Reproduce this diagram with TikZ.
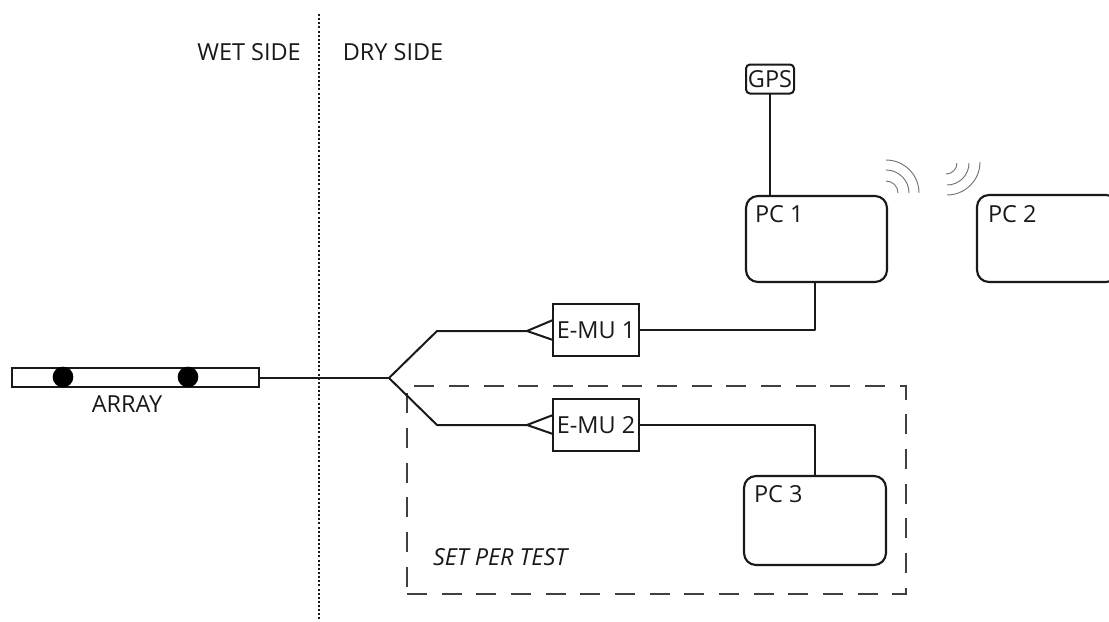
\documentclass[tikz,border=0pt]{standalone}
\usepackage{fontspec}
\setmainfont{Open Sans}
\begin{document}
\begin{tikzpicture}[x=0.75pt,y=-0.75pt,outer sep=0pt,
  wire/.style={draw=black!90,line width=1.5pt,line join=round},
  lbl/.style={inner sep=0pt,font=\fontsize{17.6pt}{20pt}\selectfont,text=black!90},
  pcbox/.style={draw=black!90,line width=1.6pt,rounded corners=9pt,anchor=north west,inner sep=0pt},
  squarebox/.style={draw=black!90,line width=1.5pt,inner sep=0pt,anchor=north west},
  wave/.style={draw=black!55,line width=0.7pt},
  sensor/.style={circle,fill=black,inner sep=0pt,minimum size=15.5pt}]
\useasboundingbox (0,0) rectangle (1109,621);
\clip (0,0) rectangle (1109,621);
% divider
\coordinate (divtop) at (319,14);
\coordinate (divbot) at (319,621);
\draw[draw=black!90,line width=1.6pt,dash pattern=on 1.5pt off 1.6pt] (divtop) -- (divbot);
\node[lbl] (wet) at (249,52) {WET SIDE};
\node[lbl] (dry) at (393,52) {DRY SIDE};
% set per test area
\node[draw=black!75,line width=1.5pt,dash pattern=on 15pt off 11pt,anchor=north west,inner sep=0pt,
  minimum width=374.25pt,minimum height=156pt] (settest) at (407,386) {};
\node[lbl,font=\fontsize{17.6pt}{20pt}\selectfont\itshape,anchor=west] (settesttext) at (433,557) {SET PER TEST};
% array
\node[squarebox,minimum width=185.25pt,minimum height=14.25pt] (array) at (12,368) {};
\node[sensor] (s1) at (63,377) {};
\node[sensor] (s2) at (188,377) {};
\node[lbl] (arraytext) at (127,404) {ARRAY};
% devices
\node[squarebox,minimum width=64.5pt,minimum height=39pt,align=center] (emu1) at (553,304) {};
\node[lbl] at (emu1.center) {E-MU 1};
\node[squarebox,minimum width=64.5pt,minimum height=39pt,align=center] (emu2) at (553,399) {};
\node[lbl] at (emu2.center) {E-MU 2};
\node[pcbox,minimum width=105.75pt,minimum height=64.5pt] (pc1) at (746,196) {};
\node[lbl,anchor=west] at (755,214) {PC 1};
\node[pcbox,minimum width=105.75pt,minimum height=65.25pt] (pc2) at (977,195) {};
\node[lbl,anchor=west] at (988,214) {PC 2};
\node[pcbox,minimum width=106.5pt,minimum height=66.75pt] (pc3) at (744,476) {};
\node[lbl,anchor=west] at (754,494) {PC 3};
\node[draw=black!90,line width=1.5pt,rounded corners=3pt,inner sep=0pt,minimum width=36pt,minimum height=21.75pt,lbl] (gps) at (770,79) {GPS};
% connectors
\coordinate (split) at (389,378);
\coordinate (upbend) at (437,331);
\coordinate (lowbend) at (437,425);
\coordinate (uptip) at (527,331);
\coordinate (lowtip) at (527,425);
\coordinate (upa) at (553,320);
\coordinate (upb) at (553,340);
\coordinate (lowa) at (553,415);
\coordinate (lowb) at (553,434);
\coordinate (pc1port) at (815,282);
\coordinate (pc3port) at (815,476);
\draw[wire] (array.east |- split) -- (split);
\draw[wire] (split) -- (upbend) -- (uptip);
\draw[wire] (split) -- (lowbend) -- (lowtip);
\draw[wire] (upa) -- (uptip) -- (upb);
\draw[wire] (lowa) -- (lowtip) -- (lowb);
\draw[wire] (emu1.east) -- (emu1.east -| pc1port) -- (pc1port);
\draw[wire] (emu2.east) -- (emu2.east -| pc3port) -- (pc3port);
\draw[wire] (gps.south) -- (gps.south |- pc1.north);
% wireless waves
\draw[wave] (886,160) arc[start angle=90,end angle=0,radius=24.75pt];
\draw[wave] (886,170) arc[start angle=90,end angle=0,radius=17.25pt];
\draw[wave] (886,181) arc[start angle=90,end angle=0,radius=9pt];
\draw[wave] (980,162) arc[start angle=0,end angle=-90,radius=24.75pt];
\draw[wave] (969,163) arc[start angle=0,end angle=-90,radius=16.5pt];
\draw[wave] (957,163) arc[start angle=0,end angle=-90,radius=8.25pt];
\end{tikzpicture}
\end{document}
